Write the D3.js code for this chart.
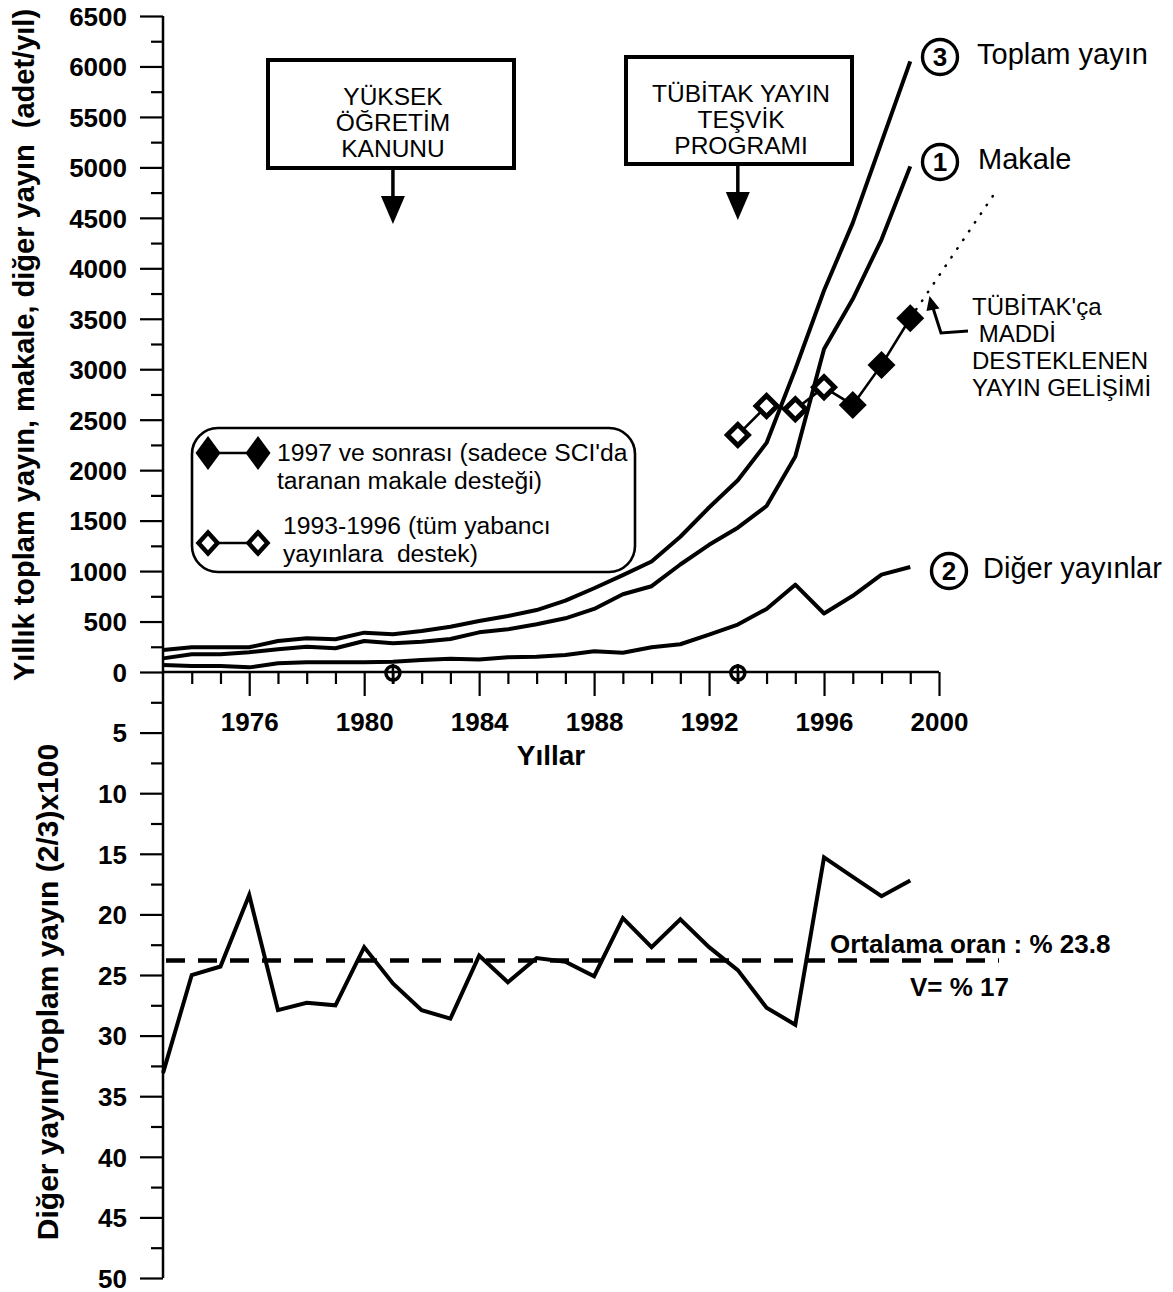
<!DOCTYPE html>
<html>
<head>
<meta charset="utf-8">
<script src="https://cdn.jsdelivr.net/npm/d3@7"></script>
<style>
  html, body { margin: 0; padding: 0; background: #fff; }
  svg text { font-family: "Liberation Sans", Arial, sans-serif; fill: #000; white-space: pre; }
</style>
</head>
<body>
<svg id="chart" width="1173" height="1292"></svg>
<script>
// ---------------- DATA ----------------
const years = [1973,1974,1975,1976,1977,1978,1979,1980,1981,1982,1983,1984,1985,1986,1987,1988,1989,1990,1991,1992,1993,1994,1995,1996,1997,1998,1999];
const totalPub = [218,245,245,245,307,334,324,390,373,406,449,505,555,614,707,830,960,1095,1340,1630,1900,2270,3000,3780,4450,5250,6050];
const articles = [135,175,175,195,225,251,235,307,284,300,327,393,423,473,532,625,770,850,1065,1260,1430,1645,2135,3200,3695,4285,5010];
const otherPub = [69,59,59,46,86,96,96,96,102,119,132,125,145,152,168,205,190,245,275,370,470,625,865,580,755,965,1040];
const ratioPct = [33.1,25.0,24.3,18.4,27.9,27.3,27.5,22.7,25.7,27.9,28.6,23.4,25.6,23.6,23.9,25.1,20.3,22.7,20.4,22.7,24.6,27.7,29.1,15.3,16.9,18.5,17.2];
const meanRatio = 23.8;

const tubitakYears  = [1993,1994,1995,1996,1997,1998,1999];
const tubitakValues = [2349,2636,2603,2821,2646,3043,3505];
const tubitakFilled = [false,false,false,false,true,true,true];
const trendYears  = [1999, 2002];
const trendValues = [3505, 4770];

const eventYears = [1981, 1993];
const eventLabels = [["YÜKSEK","ÖĞRETİM","KANUNU"],["TÜBİTAK YAYIN","TEŞVİK","PROGRAMI"]];

const upperMajorTicks = d3.range(0, 6501, 500);
const upperMinorTicks = d3.range(250, 6500, 500);
const lowerMajorTicks = d3.range(5, 51, 5);
const lowerMinorTicks = d3.range(2.5, 50, 5);
const xMajorTicks = [1976,1980,1984,1988,1992,1996,2000];
const xMinorTicks = d3.range(1974, 2000, 1).filter(v => v % 4 !== 0);

const seriesLabels = [
  {num:"3", name:"Toplam yayın"},
  {num:"1", name:"Makale"},
  {num:"2", name:"Diğer yayınlar"}
];

// ---------------- SCALES ----------------
const svg = d3.select("#chart");
const FONT = '"Liberation Sans", Arial, sans-serif';
const x = d3.scaleLinear().domain([1973, 2000]).range([163, 939]);
const yT = d3.scaleLinear().domain([0, 6500]).range([672, 16]);
const yB = d3.scaleLinear().domain([0, 50]).range([672, 1278]);

// ---------------- AXES ----------------
function styleAxis(g) {
  g.select(".domain").remove();
  g.selectAll(".tick line").attr("stroke", "#000").attr("stroke-width", 2.2);
  g.selectAll(".tick text").attr("font-family", FONT).attr("font-weight", "bold").attr("font-size", 26).attr("fill", "#000");
}
svg.append("line").attr("x1", 163).attr("x2", 163).attr("y1", yT(6500)).attr("y2", yB(50))
  .attr("stroke", "#000").attr("stroke-width", 2.5);
svg.append("line").attr("x1", x(1973)).attr("x2", x(2000)).attr("y1", yT(0)).attr("y2", yT(0))
  .attr("stroke", "#000").attr("stroke-width", 2.5);

svg.append("g").attr("transform", "translate(163,0)")
  .call(d3.axisLeft(yT).tickValues(upperMajorTicks).tickSize(23).tickPadding(13).tickFormat(d3.format("d")))
  .call(styleAxis);
svg.append("g").attr("transform", "translate(163,0)")
  .call(d3.axisLeft(yT).tickValues(upperMinorTicks).tickSize(12).tickFormat(""))
  .call(styleAxis);
svg.append("g").attr("transform", "translate(163,0)")
  .call(d3.axisLeft(yB).tickValues(lowerMajorTicks).tickSize(23).tickPadding(13).tickFormat(d3.format("d")))
  .call(styleAxis);
svg.append("g").attr("transform", "translate(163,0)")
  .call(d3.axisLeft(yB).tickValues(lowerMinorTicks).tickSize(12).tickFormat(""))
  .call(styleAxis);
svg.selectAll(".tick text").attr("dy", "0.36em");

const xg = svg.append("g").attr("transform", `translate(0,${yT(0)})`)
  .call(d3.axisBottom(x).tickValues(xMajorTicks).tickSize(24).tickPadding(17).tickFormat(d3.format("d")))
  .call(styleAxis);
xg.selectAll(".tick text").attr("dy", "0.71em");
svg.append("g").attr("transform", `translate(0,${yT(0)})`)
  .call(d3.axisBottom(x).tickValues(xMinorTicks).tickSize(12).tickFormat(""))
  .call(styleAxis);

// axis titles
svg.append("text").attr("transform", `translate(34,345) rotate(-90)`)
  .attr("text-anchor", "middle").attr("font-weight", "bold").attr("font-size", 29)
  .text("Yıllık toplam yayın, makale, diğer yayın  (adet/yıl)");
svg.append("text").attr("transform", `translate(58,992) rotate(-90)`)
  .attr("text-anchor", "middle").attr("font-weight", "bold").attr("font-size", 30)
  .text("Diğer yayın/Toplam yayın (2/3)x100");
svg.append("text").attr("x", 551).attr("y", 765).attr("text-anchor", "middle")
  .attr("font-weight", "bold").attr("font-size", 28).text("Yıllar");

// ---------------- UPPER LINES ----------------
const lineT = d3.line().x((d,i) => x(years[i])).y(d => yT(d));
[totalPub, articles, otherPub].forEach(s => {
  svg.append("path").datum(s).attr("d", lineT).attr("fill", "none")
    .attr("stroke", "#000").attr("stroke-width", 4).attr("stroke-linejoin", "round");
});

// series labels with circled numbers
const labelPos = [{cx:940, cy:57, tx:977}, {cx:940, cy:162, tx:978}, {cx:949, cy:571, tx:983}];
seriesLabels.forEach((s, i) => {
  const p = labelPos[i];
  svg.append("circle").attr("cx", p.cx).attr("cy", p.cy).attr("r", 17.5)
    .attr("fill", "#fff").attr("stroke", "#000").attr("stroke-width", 3.4);
  svg.append("text").attr("x", p.cx).attr("y", p.cy + 9).attr("text-anchor", "middle")
    .attr("font-weight", "bold").attr("font-size", 26).text(s.num);
  svg.append("text").attr("x", p.tx).attr("y", p.cy + 7)
    .attr("font-size", 29).text(s.name);
});

// ---------------- TÜBİTAK SERIES ----------------
const trendLine = d3.line().x((d,i) => x(trendYears[i])).y(d => yT(d));
svg.append("path").datum(trendValues).attr("d", trendLine).attr("fill", "none")
  .attr("stroke", "#000").attr("stroke-width", 2.5).attr("stroke-linecap", "round")
  .attr("stroke-dasharray", "0.5,10");
const tLine = d3.line().x((d,i) => x(tubitakYears[i])).y(d => yT(d));
svg.append("path").datum(tubitakValues).attr("d", tLine).attr("fill", "none")
  .attr("stroke", "#000").attr("stroke-width", 2.6);
function diamond(cx, cy, hw, hh) {
  return `M${cx},${cy-hh}L${cx+hw},${cy}L${cx},${cy+hh}L${cx-hw},${cy}Z`;
}
tubitakValues.forEach((v, i) => {
  const cx = x(tubitakYears[i]), cy = yT(v);
  if (tubitakFilled[i]) {
    svg.append("path").attr("d", diamond(cx, cy, 14, 14)).attr("fill", "#000");
  } else {
    svg.append("path").attr("d", diamond(cx, cy, 10.5, 10.5)).attr("fill", "#fff")
      .attr("stroke", "#000").attr("stroke-width", 5).attr("stroke-linejoin", "miter");
  }
});

// TÜBİTAK label + arrow
const tLbl = ["TÜBİTAK'ça", " MADDİ", "DESTEKLENEN", "YAYIN GELİŞİMİ"];
tLbl.forEach((t, i) => {
  svg.append("text").attr("x", 972).attr("y", 315 + i * 27).attr("font-size", 24).text(t);
});
svg.append("path").attr("d", "M968,331 L941,333 L933,308").attr("fill", "none")
  .attr("stroke", "#000").attr("stroke-width", 3);
svg.append("path").attr("d", "M929.5,296 L939.5,308.5 L926.5,311 Z").attr("fill", "#000");

// ---------------- EVENT BOXES ----------------
const boxes = [{x0:268, x1:514, y0:60, y1:168, ty:[105,131,157]}, {x0:626, x1:852, y0:57, y1:164, ty:[102,128,154]}];
eventYears.forEach((yr, i) => {
  const b = boxes[i];
  const ax = x(yr);
  svg.append("rect").attr("x", b.x0).attr("y", b.y0).attr("width", b.x1 - b.x0).attr("height", b.y1 - b.y0)
    .attr("fill", "#fff").attr("stroke", "#000").attr("stroke-width", 4);
  eventLabels[i].forEach((t, j) => {
    svg.append("text").attr("x", (b.x0 + b.x1) / 2 + 2).attr("y", b.ty[j]).attr("text-anchor", "middle")
      .attr("font-size", 24.5).text(t);
  });
  svg.append("line").attr("x1", ax).attr("x2", ax).attr("y1", b.y1 + 2).attr("y2", b.y1 + 32)
    .attr("stroke", "#000").attr("stroke-width", 3.5);
  svg.append("path").attr("d", `M${ax-12},${b.y1+28} L${ax+12},${b.y1+28} L${ax},${b.y1+56} Z`).attr("fill", "#000");
  // small marker on x axis
  svg.append("line").attr("x1", ax).attr("x2", ax).attr("y1", yT(0) - 8).attr("y2", yT(0) + 12)
    .attr("stroke", "#000").attr("stroke-width", 2.5);
  svg.append("circle").attr("cx", ax).attr("cy", yT(0) + 1).attr("r", 7)
    .attr("fill", "none").attr("stroke", "#000").attr("stroke-width", 3.5);
});

// ---------------- LEGEND ----------------
svg.append("rect").attr("x", 192).attr("y", 428).attr("width", 443).attr("height", 144)
  .attr("rx", 26).attr("ry", 26).attr("fill", "#fff").attr("stroke", "#000").attr("stroke-width", 2.6);
svg.append("line").attr("x1", 208).attr("x2", 258).attr("y1", 453).attr("y2", 453).attr("stroke", "#000").attr("stroke-width", 2.6);
[208, 258].forEach(cx => svg.append("path").attr("d", diamond(cx, 453, 12.5, 17)).attr("fill", "#000"));
svg.append("line").attr("x1", 208).attr("x2", 258).attr("y1", 543).attr("y2", 543).attr("stroke", "#000").attr("stroke-width", 2.6);
[208, 258].forEach(cx => svg.append("path").attr("d", diamond(cx, 543, 9.5, 10.5)).attr("fill", "#fff")
  .attr("stroke", "#000").attr("stroke-width", 4.5));
svg.append("text").attr("x", 277).attr("y", 461).attr("font-size", 24.7).text("1997 ve sonrası (sadece SCI'da");
svg.append("text").attr("x", 277).attr("y", 489).attr("font-size", 24.7).text("taranan makale desteği)");
svg.append("text").attr("x", 283).attr("y", 534).attr("font-size", 24.7).text("1993-1996 (tüm yabancı");
svg.append("text").attr("x", 283).attr("y", 562).attr("font-size", 24.7).text("yayınlara  destek)");

// ---------------- LOWER CHART ----------------
const lineB = d3.line().x((d,i) => x(years[i])).y(d => yB(d));
svg.append("path").datum(ratioPct).attr("d", lineB).attr("fill", "none")
  .attr("stroke", "#000").attr("stroke-width", 4).attr("stroke-linejoin", "miter");
svg.append("line").attr("x1", 166).attr("x2", 999).attr("y1", yB(meanRatio)).attr("y2", yB(meanRatio))
  .attr("stroke", "#000").attr("stroke-width", 4.5).attr("stroke-dasharray", "19,13");
svg.append("text").attr("x", 830).attr("y", 953).attr("font-weight", "bold").attr("font-size", 26)
  .text("Ortalama oran : % 23.8");
svg.append("text").attr("x", 910).attr("y", 996).attr("font-weight", "bold").attr("font-size", 26)
  .text("V= % 17");
</script>
</body>
</html>
